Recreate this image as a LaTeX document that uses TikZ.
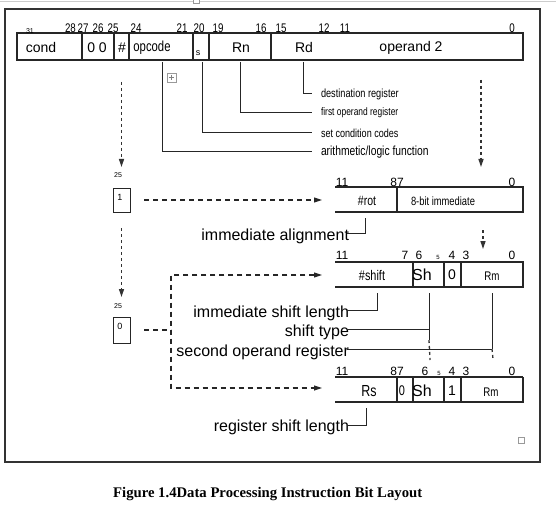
\documentclass[tikz,border=0pt]{standalone}
\usepackage{fontspec}
\setmainfont{Liberation Sans}
\newfontfamily\narrowsf[FakeStretch=0.78]{Liberation Sans}
\newfontfamily\capserif{Liberation Serif}
\usetikzlibrary{arrows.meta}
\newcommand\fsz[1]{\fontsize{#1}{#1}\selectfont}
\tikzset{
  reg/.style={line width=1.2pt, draw=black!85},
  frame/.style={line width=1.6pt, draw=black!80},
  lead/.style={line width=1pt, draw=black!85},
  txt/.style={inner sep=0pt, outer sep=0pt, font=\fsz{#1}},
  ntxt/.style={inner sep=0pt, outer sep=0pt, font={\narrowsf\fsz{#1}}},
  hdash/.style={line width=1.1pt, dash pattern=on 5pt off 4pt, draw=black!85},
  vdash/.style={line width=1.3pt, dash pattern=on 3pt off 3pt, draw=black!80},
  tip/.style={-{Triangle[length=8pt,width=5pt]}},
  bitbox/.style={draw=black!85, line width=1pt, minimum width=17pt, minimum height=24pt, inner sep=0pt},
  icon/.style={draw=black!40, line width=0.6pt, fill=white},
}
\begin{document}
\begin{tikzpicture}[x=1pt,y=-1pt]
\useasboundingbox (0,0) rectangle (556,505);
\fill[white] (0,0) rectangle (556,505);
\draw[black!20, line width=1pt] (0,2) -- (556,2);
\draw[icon] (193,-3) rectangle (199,3);
\draw[frame] (5,9) rectangle (540,462);

% ---- top instruction word ----
\draw[reg] (17,33) rectangle (523,60);
\foreach \x in {82,114,129,193,209,271} \draw[reg] (\x,33) -- (\x,60);
\node[txt=7] (b31) at (30,31) {31};
\foreach \x/\t in {70.5/28,83/27,98/26,113/25,136/24,182/21,199/20,218/19,261/16,281/15,324/12,345/11,512/0}
  \node[ntxt=12.5] at (\x,28) {\t};
\node[txt=14] (cond) at (41,47.5) {cond};
\node[txt=14] (zz) at (97,47.5) {0 0};
\node[txt=14] (hash) at (122,47.5) {\#};
\node[ntxt=14.5] (opc) at (152,47.5) {opcode};
\node[txt=9] (sbit) at (198,53) {s};
\node[txt=14] (rn) at (241,47.5) {Rn};
\node[txt=14] (rd) at (304,47.5) {Rd};
\node[txt=14] (op2) at (411,47.5) {operand 2};

% leaders of the top word
\coordinate (rdl) at (303,62);
\coordinate (rnl) at (240,62);
\coordinate (sl) at (202,62);
\coordinate (opl) at (162,62);
\node[ntxt=11.8, anchor=west] (dest) at (321,94) {destination register};
\node[ntxt=10.8, anchor=west] (first) at (321,113) {first operand register};
\node[ntxt=11.6, anchor=west] (setcc) at (321,133) {set condition codes};
\node[ntxt=13.2, anchor=west] (arith) at (321,152) {arithmetic/logic function};
\draw[lead] (rdl) |- ([xshift=-9pt]dest.west);
\draw[lead] (rnl) |- ([xshift=-9pt]first.west);
\draw[lead] (sl) |- ([xshift=-9pt]setcc.west);
\draw[lead] (opl) |- ([xshift=-9pt]arith.west);

% anchor icon
\draw[icon] (167,73) rectangle (176,82);
\draw[black!50, line width=0.5pt] (171.5,75) -- (171.5,80) (169,77.5) -- (174,77.5);

% ---- vertical dashed arrows ----
\coordinate (vl1s) at (121.5,82);  \coordinate (vl1e) at (121.5,167);
\coordinate (vr1s) at (481,80);    \coordinate (vr1e) at (481,167);
\coordinate (vl2s) at (121.5,228); \coordinate (vl2e) at (121.5,297);
\coordinate (vr2s) at (483,230);   \coordinate (vr2e) at (483,249);
\draw[vdash,tip] (vl1s) -- (vl1e);
\draw[vdash,tip] (vr1s) -- (vr1e);
\draw[vdash,tip] (vl2s) -- (vl2e);
\draw[vdash,tip] (vr2s) -- (vr2e);

% ---- bit 25 boxes ----
\node[txt=7] (t25a) at (118,175) {25};
\node[bitbox] (box1) at (121.5,200) {};
\node[txt=9] (one) at (120,197) {1};
\node[txt=7] (t25b) at (118,306) {25};
\node[bitbox, minimum height=26pt] (box0) at (121.5,330) {};
\node[txt=9] (zero) at (120,326) {0};

\coordinate (h1s) at (144,200); \coordinate (h1e) at (322,200);
\draw[hdash,tip] (h1s) -- (h1e);

\coordinate (la1) at (322,275); \coordinate (lc1) at (171,275);
\coordinate (lc2) at (171,388); \coordinate (la2) at (322,388);
\draw[hdash,{Triangle[length=8pt,width=5pt]}-{Triangle[length=8pt,width=5pt]}] (la1) -- (lc1) -- (lc2) -- (la2);
\coordinate (b0s) at (144,330); \coordinate (b0e) at (171,330);
\draw[hdash] (b0s) -- (b0e);

% ---- immediate operand ----
\draw[reg] (335,187) -- (523,187) -- (523,212) -- (335,212);
\draw[reg] (397,187) -- (397,212);
\node[txt=12] at (342,182) {11};
\node[txt=12] at (397,182) {87};
\node[txt=12] at (512,182) {0};
\node[ntxt=13.5] (rot) at (367,201) {\#rot};
\node[ntxt=12] (imm8) at (443,201) {8-bit immediate};
\coordinate (rotl) at (365,218);
\node[txt=16, anchor=east] (ialign) at (349,236) {immediate alignment};
\draw[lead] (rotl) |- ([xshift=-2pt,yshift=3pt]ialign.east);

% ---- immediate shift ----
\draw[reg] (335,262) -- (523,262) -- (523,287) -- (335,287);
\foreach \x in {413,444,461} \draw[reg] (\x,262) -- (\x,287);
\foreach \x/\t in {342/11,405/7,419/6,452/4,466/3,512/0}
  \node[txt=12] at (\x,255) {\t};
\node[txt=6] at (438,257) {5};
\node[ntxt=14] (shamt) at (372,275) {\#shift};
\node[txt=16] (sh1) at (422,275) {Sh};
\node[txt=14] (z1) at (452,275) {0};
\node[ntxt=12.5] (rm1) at (492,276) {Rm};

\coordinate (shl) at (377,293);
\node[txt=16, anchor=east] (isl) at (349,313) {immediate shift length};
\draw[lead] (shl) |- ([xshift=-2pt,yshift=3pt]isl.east);

\coordinate (stl) at (429,293); \coordinate (stj) at (429,329);
\coordinate (stm) at (429,340); \coordinate (ste) at (430,360);
\node[txt=16, anchor=east] (stype) at (349,332) {shift type};
\draw[lead] (stl) -- (stm);
\draw[lead] ([xshift=-2pt,yshift=3pt]stype.east) -- (stj);
\draw[vdash] (stm) -- (ste);

\coordinate (rml) at (492,293); \coordinate (rmj) at (492,349);
\coordinate (rme) at (493,359);
\node[txt=16, anchor=east] (sor) at (349,352) {second operand register};
\draw[lead] (rml) -- (rmj);
\draw[lead] ([xshift=-2pt,yshift=3pt]sor.east) -- (rmj);
\draw[vdash] (rmj) -- (rme);

% ---- register shift ----
\draw[reg] (523,377) -- (523,402) -- (335,402);
\draw[reg, line width=2.2pt] (335,377) -- (523,377);
\foreach \x in {397,413,444,461} \draw[reg] (\x,377) -- (\x,402);
\foreach \x/\t in {342/11,397/87,425/6,452/4,466/3,512/0}
  \node[txt=12] at (\x,371) {\t};
\node[txt=6] at (439,373) {5};
\node[ntxt=16] (rs) at (369,391) {Rs};
\node[ntxt=14] (z2) at (402,391) {0};
\node[txt=16] (sh2) at (422,391) {Sh};
\node[txt=14] (o2) at (452,391) {1};
\node[ntxt=12.5] (rm2) at (491,392) {Rm};

\coordinate (rsl) at (366,408);
\node[txt=16, anchor=east] (rsln) at (349,427) {register shift length};
\draw[lead] (rsl) |- ([xshift=-2pt,yshift=2pt]rsln.east);

\draw[icon] (518,437) rectangle (524,443);

\node[anchor=west, inner sep=0pt, font={\capserif\bfseries\fsz{14.7}}] (cap) at (113,494)
  {Figure 1.4Data Processing Instruction Bit Layout};
\end{tikzpicture}
\end{document}
